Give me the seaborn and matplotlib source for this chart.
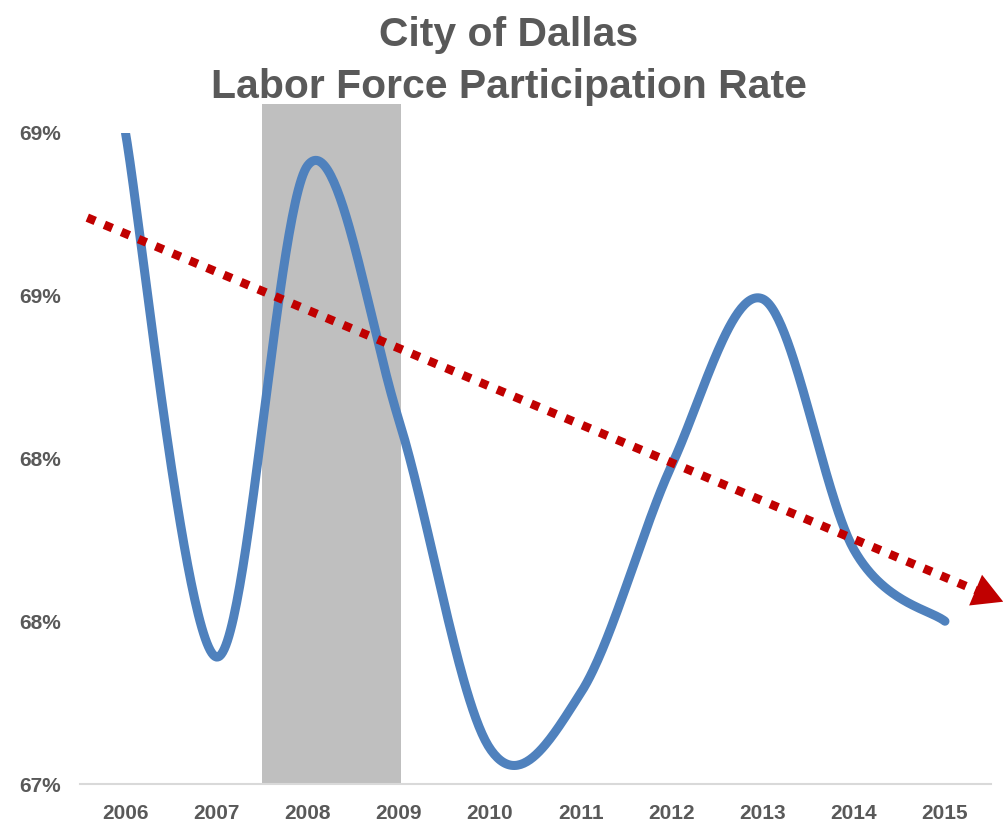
import numpy as np
import pandas as pd
import matplotlib
matplotlib.use("Agg")
import matplotlib.pyplot as plt
import seaborn as sns

# ---- data ----
years = ["2006", "2007", "2008", "2009", "2010", "2011", "2012", "2013", "2014", "2015"]
rate = [69.00, 67.39, 68.90, 68.12, 67.11, 67.28, 67.98, 68.49, 67.72, 67.50]
recession_span = [1.5, 3.03]          # shaded band (category units)
recession_top = 69.09
trend_x = [-0.42, 9.64]                # red dotted trend arrow
trend_y = [68.74, 67.56]
y_ticks = [67.0, 67.5, 68.0, 68.5, 69.0]
y_tick_labels = ["67%", "68%", "68%", "69%", "69%"]
title_lines = ["City of Dallas", "Labor Force Participation Rate"]

sns.set_theme(style="white")
plt.rcParams['font.family'] = ['Liberation Sans', 'DejaVu Sans']

TXT = "#595959"
BLUE = "#4F81BD"
RED = "#C00000"
GRAY = "#BFBFBF"


def catmull_rom(x, y, n=60):
    P = np.column_stack([x, y]).astype(float)
    P = np.vstack([P[0], P, P[-1]])
    out = []
    t = np.linspace(0, 1, n)[:, None]
    for i in range(1, len(P) - 2):
        p0, p1, p2, p3 = P[i - 1], P[i], P[i + 1], P[i + 2]
        c1 = p1 + (p2 - p0) / 6
        c2 = p2 - (p3 - p1) / 6
        seg = ((1 - t) ** 3) * p1 + 3 * ((1 - t) ** 2) * t * c1 + 3 * (1 - t) * t ** 2 * c2 + t ** 3 * p2
        out.append(seg if i == 1 else seg[1:])
    S = np.vstack(out)
    return S[:, 0], S[:, 1]


xi = np.arange(len(years))
sx, sy = catmull_rom(xi, rate)
curve = pd.DataFrame({"x": sx, "y": sy})

fig = plt.figure(figsize=(10.04, 8.26), dpi=100)
ax = fig.add_axes([80 / 1004, 1 - 784 / 826, (990.5 - 80) / 1004, (784 - 133) / 826])

# recession band
ax.bar(recession_span[0], recession_top - y_ticks[0], bottom=y_ticks[0],
       width=recession_span[1] - recession_span[0], align="edge",
       color=GRAY, edgecolor="none", clip_on=False, zorder=1)

sns.lineplot(data=curve, x="x", y="y", sort=False, ax=ax, color=BLUE,
             linewidth=6.5, zorder=3, estimator=None)
ax.lines[-1].set_solid_capstyle("round")

# trend arrow
frac = 0.972
bx = trend_x[0] + (trend_x[1] - trend_x[0]) * frac
by = trend_y[0] + (trend_y[1] - trend_y[0]) * frac
ax.plot([trend_x[0], bx], [trend_y[0], by],
        color=RED, linewidth=6.2, linestyle=(0, (1.0, 1.15)),
        dash_capstyle="butt", clip_on=False, zorder=4)
ax.annotate("", xy=(trend_x[1], trend_y[1]), xytext=(bx, by),
            arrowprops=dict(arrowstyle="-|>,head_length=1.8,head_width=1.0",
                            color=RED, lw=0, shrinkA=0, shrinkB=0),
            annotation_clip=False, zorder=4)

ax.set_xlim(-0.5, len(years) - 0.5)
ax.set_ylim(y_ticks[0], y_ticks[-1])
ax.set_xticks(xi)
ax.set_xticklabels(years)
ax.set_yticks(y_ticks)
ax.set_yticklabels(y_tick_labels)
ax.tick_params(axis="both", length=0, labelcolor=TXT, labelsize=15)
ax.tick_params(axis="y", pad=14)
ax.tick_params(axis="x", pad=14.5)
for lab in ax.get_xticklabels() + ax.get_yticklabels():
    lab.set_fontweight("bold")
ax.set_xlabel("")
ax.set_ylabel("")
for s in ["top", "right", "left"]:
    ax.spines[s].set_visible(False)
ax.spines["bottom"].set_color("#D9D9D9")
ax.spines["bottom"].set_linewidth(1.5)
ax.spines["bottom"].set_zorder(2)
ax.set_facecolor("none")

fig.text(509 / 1004, 1 - 46 / 826, title_lines[0], ha="center", va="baseline",
         fontsize=29.4, fontweight="bold", color=TXT)
fig.text(509 / 1004, 1 - 98 / 826, title_lines[1], ha="center", va="baseline",
         fontsize=29.4, fontweight="bold", color=TXT)

fig.savefig("out.png", dpi=100)
